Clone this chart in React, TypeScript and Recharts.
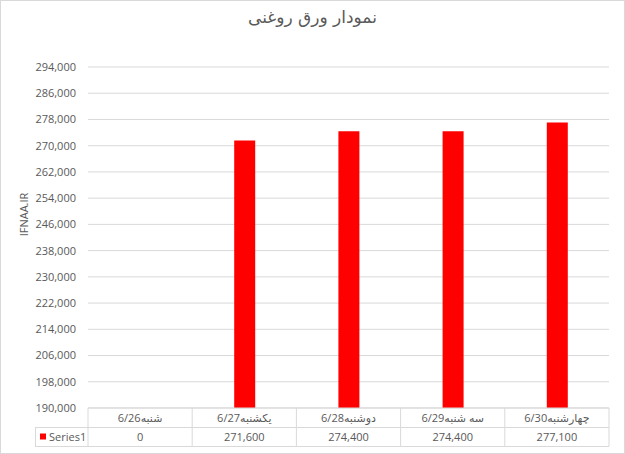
import { Bar, BarChart, CartesianGrid, XAxis, YAxis } from "recharts";

const categories = ["6/26شنبه", "6/27یکشنبه", "6/28دوشنبه", "6/29سه شنبه", "6/30چهارشنبه"];
const prices = [0, 271600, 274400, 274400, 277100];
const yTicks = [
  190000, 198000, 206000, 214000, 222000, 230000, 238000, 246000, 254000, 262000, 270000,
  278000, 286000, 294000,
];
const seriesName = "Series1";
const chartTitle = "نمودار ورق روغنی";
const axisTitle = "IFNAA.IR";

const W = 625;
const H = 454;
const PLOT_LEFT = 88;
const PLOT_RIGHT = 609;
const LEGEND_LEFT = 35;
const GRID = "#d9d9d9";
const TEXT = "#595959";
const FONT = "'Open Sans', 'DejaVu Sans', sans-serif";

const data = categories.map((day, i) => ({
  day,
  price: prices[i],
  bar: prices[i] > yTicks[0] ? prices[i] : null,
}));

const colW = (PLOT_RIGHT - PLOT_LEFT) / categories.length;
const fmt = (v: number) => v.toLocaleString("en-US");

function TableTick(props: any) {
  const { x, y, payload, index } = props;
  const left = x - colW / 2;
  const right = x + colW / 2;
  const mid = Math.round(y) + 19.5;
  const bot = Math.round(y) + 38.5;
  return (
    <g>
      <line x1={left} x2={right} y1={mid} y2={mid} stroke={GRID} />
      <line x1={left} x2={right} y1={bot} y2={bot} stroke={GRID} />
      <line x1={right} x2={right} y1={y} y2={bot} stroke={GRID} />
      {index === 0 && (
        <g>
          <line x1={left} x2={left} y1={y} y2={bot} stroke={GRID} />
          <line x1={LEGEND_LEFT} x2={left} y1={mid} y2={mid} stroke={GRID} />
          <line x1={LEGEND_LEFT} x2={left} y1={bot} y2={bot} stroke={GRID} />
          <line x1={LEGEND_LEFT + 0.5} x2={LEGEND_LEFT + 0.5} y1={mid} y2={bot} stroke={GRID} />
          <rect x={LEGEND_LEFT + 5} y={mid + 6} width={6} height={6} fill="#ff0000" />
          <text x={LEGEND_LEFT + 14} y={mid + 13} fontSize={11} fill={TEXT} fontFamily={FONT}>
            {seriesName}
          </text>
        </g>
      )}
      <text x={x} y={y + 14} textAnchor="middle" fontSize={11} fill={TEXT} fontFamily={FONT}>
        {payload.value}
      </text>
      <text x={x} y={mid + 13} textAnchor="middle" fontSize={11} fill={TEXT} fontFamily={FONT}>
        {fmt(data[index].price)}
      </text>
    </g>
  );
}

export default function App() {
  return (
    <div style={{ position: "absolute", left: 0, top: 0, width: W, height: H, background: "#fff" }}>
      <div
        style={{
          position: "absolute",
          left: 0,
          top: 7,
          width: W,
          textAlign: "center",
          fontFamily: "'DejaVu Sans', sans-serif",
          fontSize: 17,
          color: TEXT,
        }}
      >
        {chartTitle}
      </div>
      <BarChart
        width={W}
        height={H}
        data={data}
        margin={{ top: 67, right: W - PLOT_RIGHT, bottom: 8, left: 0 }}
      >
        <CartesianGrid vertical={false} stroke={GRID} />
        <XAxis
          dataKey="day"
          height={38}
          tickLine={false}
          tickSize={0}
          tickMargin={0}
          axisLine={{ stroke: GRID }}
          interval={0}
          tick={<TableTick />}
        />
        <YAxis
          width={PLOT_LEFT}
          domain={[yTicks[0], yTicks[yTicks.length - 1]]}
          ticks={yTicks}
          allowDataOverflow
          axisLine={false}
          tickLine={false}
          tickSize={0}
          tickMargin={12}
          tickFormatter={fmt}
          tick={{ fontSize: 11, fill: TEXT, fontFamily: FONT }}
          label={{
            content: (p: any) => {
              const vb = p.viewBox;
              const cx = vb.x + 23;
              const cy = vb.y + vb.height / 2 - 23;
              return (
                <text
                  x={cx}
                  y={cy}
                  transform={`rotate(-90 ${cx} ${cy})`}
                  textAnchor="middle"
                  dominantBaseline="central"
                  fontSize={11}
                  fill={TEXT}
                  fontFamily={FONT}
                >
                  {axisTitle}
                </text>
              );
            },
          }}
        />
        <Bar dataKey="bar" fill="#ff0000" barSize={21} isAnimationActive={false} />
      </BarChart>
      <div
        style={{
          position: "absolute",
          left: 0,
          top: 0,
          width: W,
          height: H,
          boxSizing: "border-box",
          border: `1px solid ${GRID}`,
          pointerEvents: "none",
        }}
      />
    </div>
  );
}
